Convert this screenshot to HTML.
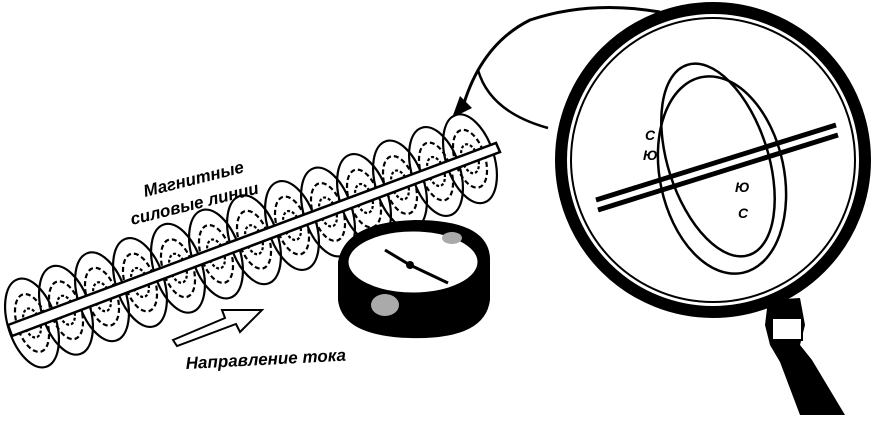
<!DOCTYPE html>
<html><head><meta charset="utf-8"><style>html,body{margin:0;padding:0;background:#fff}svg{display:block}</style></head>
<body>
<svg width="873" height="423" viewBox="0 0 873 423" xmlns="http://www.w3.org/2000/svg">
<g fill="none" stroke="#000" stroke-width="2.2" id="L"></g>
<!-- rod -->
<path d="M8,325 L496,143 L500,152 L12,336 Z" fill="#fff" stroke="#000" stroke-width="2.5"/>
<!-- compass -->
<path d="M338,262 Q345,222 415,220 Q488,220 490,258 L490,300 Q485,340 410,338 Q342,336 338,300 Z" fill="#000"/>
<ellipse cx="413" cy="262" rx="66" ry="32" fill="#fff" stroke="#000" stroke-width="3"/>
<path d="M385,250 L410,265 L448,283" stroke="#000" stroke-width="3" fill="none"/>
<circle cx="410" cy="265" r="4" fill="#000"/>
<ellipse cx="385" cy="305" rx="14" ry="11" fill="#aaa"/>
<ellipse cx="452" cy="238" rx="10" ry="6" fill="#aaa"/>
<!-- current arrow -->
<path d="M173,340 L225,318 L222,310 L262,310 L240,332 L236,324 L177,346 Z" fill="#fff" stroke="#000" stroke-width="2"/>
<text x="186" y="369" font-family="Liberation Sans, sans-serif" font-style="italic" font-size="17" font-weight="bold" transform="rotate(-3 186 369)">Направление тока</text>
<text x="145" y="197" font-family="Liberation Sans, sans-serif" font-style="italic" font-size="17" font-weight="bold" transform="rotate(-14 145 197)">Магнитные</text>
<text x="132" y="225" font-family="Liberation Sans, sans-serif" font-style="italic" font-size="17" font-weight="bold" transform="rotate(-14 132 225)">силовые линии</text>
<!-- curved arrow -->
<path d="M660,12 Q590,0 530,20 Q480,45 462,110" fill="none" stroke="#000" stroke-width="3"/>
<path d="M478,70 Q490,112 548,128" fill="none" stroke="#000" stroke-width="2.5"/>
<path d="M452,118 L460,96 L472,108 Z" fill="#000"/>
<!-- magnifier handle -->
<path d="M768,300 L800,298 L805,325 L800,345 L812,360 L845,415 L800,415 L780,362 L770,345 L765,325 Z" fill="#000"/>
<rect x="772" y="318" width="30" height="22" fill="#fff" stroke="#000" stroke-width="2"/>
<!-- lens -->
<circle cx="713" cy="160" r="152" fill="#fff" stroke="#000" stroke-width="12"/>
<circle cx="713" cy="160" r="142" fill="none" stroke="#000" stroke-width="2"/>
<g fill="none" stroke="#000" stroke-width="2.5">
<ellipse cx="718" cy="160" rx="50" ry="100" transform="rotate(-18 718 160)"/>
<ellipse cx="722" cy="175" rx="62" ry="100" transform="rotate(-12 722 175)"/>
</g>
<path d="M596,200 L836,125 M598,210 L838,135" stroke="#000" stroke-width="5"/>
<g font-family="Liberation Sans, sans-serif" font-style="italic" font-weight="bold" font-size="14">
<text x="645" y="140">С</text><text x="643" y="160">Ю</text>
<text x="735" y="192">Ю</text><text x="738" y="218">С</text>
</g>
</svg>
<script>
(function(){
var g=document.getElementById('L'),ns='http://www.w3.org/2000/svg';
var xs=[32,66,102,140,178,216,254,292,328,364,400,436,470];
xs.forEach(function(x){
 var y=332-(x-8)*0.375;
 [[24,46,''],[15,30,'5 3'],[8,15,'3 2']].forEach(function(p){
  var e=document.createElementNS(ns,'ellipse');
  e.setAttribute('cx',x);e.setAttribute('cy',y);e.setAttribute('rx',p[0]);e.setAttribute('ry',p[1]);
  e.setAttribute('transform','rotate(-18 '+x+' '+y+')');
  if(p[2])e.setAttribute('stroke-dasharray',p[2]);
  g.appendChild(e);
 });
});
})();
</script>
</body></html>
